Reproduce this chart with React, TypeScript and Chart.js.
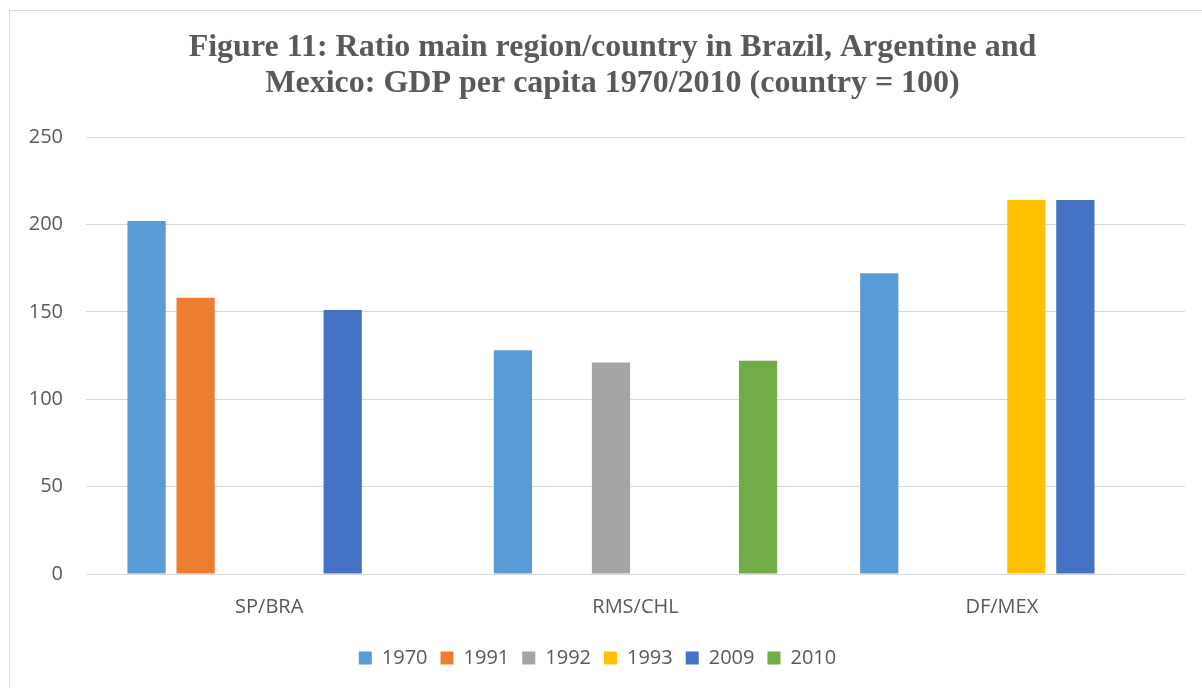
import React, { useEffect, useRef } from "react";
import { Chart, registerables } from "chart.js";

Chart.register(...registerables);

const categories = ["SP/BRA", "RMS/CHL", "DF/MEX"];
const seriesLabels = ["1970", "1991", "1992", "1993", "2009", "2010"];
const values1970 = [202, 128, 172];
const values1991 = [158, null, null];
const values1992 = [null, 121, null];
const values1993 = [null, null, 214];
const values2009 = [151, null, 214];
const values2010 = [null, 122, null];
const seriesColors = ["#5B9BD5", "#ED7D31", "#A5A5A5", "#FFC000", "#4472C4", "#70AD47"];
const titleLines = [
  "Figure 11: Ratio main region/country in Brazil, Argentine and",
  "Mexico: GDP per capita 1970/2010 (country = 100)",
];
const yMin = 0;
const yMax = 250;
const yStep = 50;

const shiftPlugin = {
  id: "shiftBlocks",
  afterLayout(chart: any) {
    const lg = chart.legend;
    if (lg) {
      lg.left -= 5;
      lg.right -= 5;
    }
    const tb = chart.titleBlock;
    if (tb) {
      tb.left += 10;
      tb.right += 10;
    }
  },
};

export default function App() {
  const ref = useRef<HTMLCanvasElement | null>(null);
  useEffect(() => {
    if (!ref.current) return;
    const allValues = [values1970, values1991, values1992, values1993, values2009, values2010];
    const chart = new Chart(ref.current, {
      type: "bar",
      data: {
        labels: categories,
        datasets: seriesLabels.map((label, i) => ({
          label,
          data: allValues[i] as any,
          backgroundColor: seriesColors[i],
          borderWidth: 0,
          categoryPercentage: 0.803,
          barPercentage: 0.78,
        })),
      },
      plugins: [shiftPlugin],
      options: {
        responsive: false,
        animation: false,
        layout: { padding: { left: 20, right: 17, top: 0, bottom: 10 } },
        plugins: {
          title: {
            display: true,
            text: titleLines,
            color: "#595959",
            font: { family: "'Liberation Serif', 'Times New Roman', serif", size: 32, weight: "bold", lineHeight: 1.125 },
            padding: { top: 30, bottom: 35 },
          },
          legend: {
            position: "bottom",
            labels: {
              boxWidth: 13,
              boxHeight: 13,
              padding: 13,
              color: "#595959",
              font: { family: "'Open Sans', sans-serif", size: 20 },
            },
          },
          tooltip: { enabled: false },
        },
        scales: {
          x: {
            grid: { display: false, drawTicks: false },
            border: { display: false },
            ticks: { color: "#595959", padding: 21, font: { family: "'Open Sans', sans-serif", size: 20 } },
            afterFit: (s: any) => { s.height = 61; },
          },
          y: {
            min: yMin,
            max: yMax,
            grid: { color: "#D9D9D9", lineWidth: 1, drawTicks: false },
            border: { display: false },
            ticks: { stepSize: yStep, color: "#595959", padding: 23, font: { family: "'Open Sans', sans-serif", size: 20 } },
            afterFit: (s: any) => { s.width = 66; },
          },
        },
      },
    });
    return () => chart.destroy();
  }, []);
  return (
    <div style={{ position: "fixed", left: 0, top: 0, width: 1202, height: 688, overflow: "hidden", background: "#fff" }}>
      <canvas ref={ref} width={1202} height={688} style={{ position: "absolute", left: 0, top: 0 }} />
      <div style={{ position: "absolute", left: 9, top: 10, width: 1400, height: 900, border: "1px solid #D9D9D9", pointerEvents: "none" }} />
    </div>
  );
}
